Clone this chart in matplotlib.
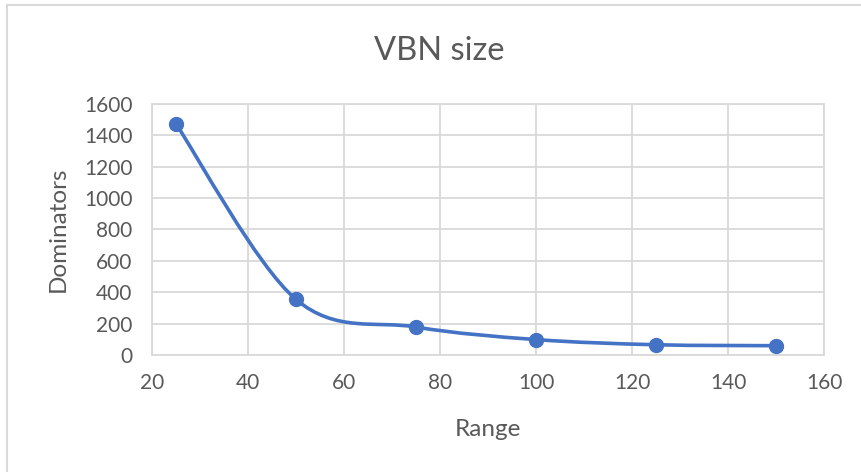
import matplotlib
matplotlib.use("Agg")
import matplotlib.pyplot as plt
from matplotlib.path import Path
from matplotlib.patches import PathPatch, Rectangle
import numpy as np

# VBN size vs. communication range
RANGE = [25, 50, 75, 100, 125, 150]
DOMINATORS = [1473, 354, 178, 98, 65, 59]

X_TICKS = [20, 40, 60, 80, 100, 120, 140, 160]
Y_TICKS = [0, 200, 400, 600, 800, 1000, 1200, 1400, 1600]

LINE_COLOR = "#4472C4"
TEXT_COLOR = "#595959"
GRID_COLOR = "#D9D9D9"

plt.rcParams["font.family"] = ["Lato", "DejaVu Sans"]


def smooth_path(xs, ys):
    # cubic bezier through every point, catmull-rom style handles
    pts = np.column_stack([xs, ys]).astype(float)
    n = len(pts)
    verts = [tuple(pts[0])]
    codes = [Path.MOVETO]
    for i in range(n - 1):
        p0 = pts[i - 1] if i > 0 else pts[i]
        p1 = pts[i]
        p2 = pts[i + 1]
        p3 = pts[i + 2] if i + 2 < n else pts[i + 1]
        c1 = p1 + (p2 - p0) / 6.0
        c2 = p2 - (p3 - p1) / 6.0
        verts += [tuple(c1), tuple(c2), tuple(p2)]
        codes += [Path.CURVE4] * 3
    return Path(verts, codes)


fig = plt.figure(figsize=(8.62, 4.72), dpi=100)

# chart frame (only top and left edges fall inside the image)
fig.patches.append(Rectangle((0.008, -0.1), 1.1, 1.09, transform=fig.transFigure,
                             fill=False, edgecolor=GRID_COLOR, linewidth=1.5))

ax = fig.add_axes([0.1763, 0.248, 0.7797, 0.5317])

ax.add_patch(PathPatch(smooth_path(RANGE, DOMINATORS), facecolor="none",
                       edgecolor=LINE_COLOR, linewidth=2.6, capstyle="round",
                       zorder=3))
ax.plot(RANGE, DOMINATORS, linestyle="none", marker="o", markersize=10,
        color=LINE_COLOR, zorder=4)

ax.set_xlim(20, 160)
ax.set_ylim(0, 1600)
ax.set_xticks(X_TICKS)
ax.set_yticks(Y_TICKS)
ax.grid(True, color=GRID_COLOR, linewidth=1.3)
ax.set_axisbelow(True)
for side in ax.spines.values():
    side.set_color(GRID_COLOR)
    side.set_linewidth(1.3)
ax.tick_params(length=0, labelsize=15, colors=TEXT_COLOR)
ax.tick_params(axis="y", pad=14)
ax.tick_params(axis="x", pad=13)

fig.text(0.51, 0.893, "VBN size", ha="center", va="center",
         fontsize=23.5, color=TEXT_COLOR)
ax.set_xlabel("Range", fontsize=17.5, color=TEXT_COLOR, labelpad=19)
ax.set_ylabel("Dominators", fontsize=17.5, color=TEXT_COLOR, labelpad=11)

fig.savefig("out.png", dpi=100)
